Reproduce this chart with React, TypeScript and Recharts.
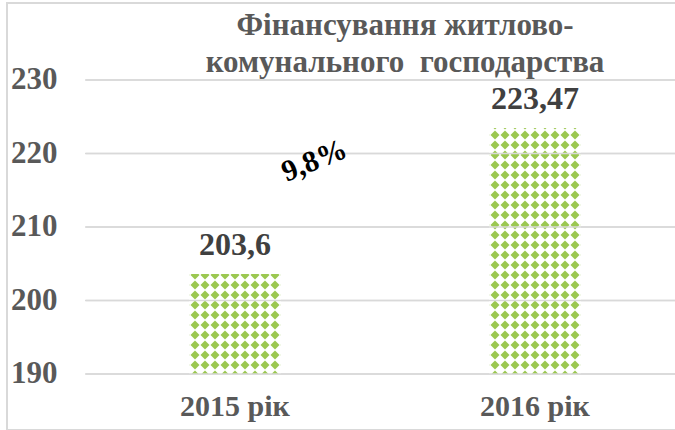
import React from 'react';
import { BarChart, Bar, XAxis, YAxis, CartesianGrid, LabelList } from 'recharts';

const categories = ['2015 рік', '2016 рік'];
const values = [203.6, 223.47];
const valueLabels = ['203,6', '223,47'];
const yTicks = [190, 200, 210, 220, 230];
const titleLines = ['Фінансування житлово-', 'комунального  господарства'];
const growthLabel = '9,8%';

const data = categories.map((name, i) => ({ name, value: values[i], label: valueLabels[i] }));

const FONT = '"Liberation Serif", "Times New Roman", serif';
const GRAY = '#595959';
const CHART_W = 675;

const YTick = (props: any) => (
  <g>
    <line x1={86} x2={CHART_W} y1={props.y} y2={props.y} stroke="#d9d9d9" strokeWidth={1.5} />
    <text x={11} y={props.y} dy={9} textAnchor="start" fontFamily={FONT} fontSize={31} fontWeight="bold" fill={GRAY}>
      {props.payload.value}
    </text>
  </g>
);

const XTick = (props: any) => (
  <text x={props.x} y={props.y} dy={34} textAnchor="middle" fontFamily={FONT} fontSize={30} fontWeight="bold" fill={GRAY}>
    {props.payload.value}
  </text>
);

const ValueLabel = (props: any) => (
  <text x={props.x + props.width / 2} y={props.y - 19} textAnchor="middle" fontFamily={FONT} fontSize={32} fontWeight="bold" fill="#404040">
    {props.value}
  </text>
);

const App: React.FC = () => {
  return (
    <div style={{ position: 'fixed', left: 0, top: 0, width: 675, height: 430, overflow: 'hidden', background: '#fff', fontFamily: FONT }}>
      <svg width={0} height={0} style={{ position: 'absolute' }}>
        <defs>
          <pattern id="diamonds" width={10} height={10} patternUnits="userSpaceOnUse">
            <rect width={10} height={10} fill="#fff" />
            <polygon points="5,0.5 9.5,5 5,9.5 0.5,5" fill="#9BC850" />
          </pattern>
        </defs>
      </svg>
      <div style={{ position: 'absolute', left: 6, top: 2, width: 720, height: 425, border: '2px solid #d9d9d9' }} />
      <div style={{ position: 'absolute', left: 0, top: 0, width: 675 }}>
        <BarChart width={CHART_W} height={430} data={data} margin={{ top: 80, right: -10, bottom: 0, left: 0 }} barSize={92}>
          <CartesianGrid vertical={false} stroke="#d9d9d9" strokeWidth={1.5} />
          <XAxis dataKey="name" height={56} axisLine={false} tickLine={false} tick={<XTick />} interval={0} />
          <YAxis width={85} domain={[190, 230]} ticks={yTicks} axisLine={false} tickLine={false} tick={<YTick />} />
          <Bar dataKey="value" fill="url(#diamonds)" isAnimationActive={false}>
            <LabelList dataKey="label" content={<ValueLabel />} />
          </Bar>
        </BarChart>
      </div>
      <div style={{ position: 'absolute', left: 0, width: 810, top: 6, textAlign: 'center', fontSize: 31, fontWeight: 'bold', color: GRAY, lineHeight: '37px', whiteSpace: 'pre' }}>
        {titleLines.map((l) => (
          <div key={l}>{l}</div>
        ))}
      </div>
      <div style={{ position: 'absolute', left: 314, top: 160, transform: 'translate(-50%, -50%) rotate(-22deg)', fontSize: 30, fontWeight: 'bold', color: '#000', whiteSpace: 'nowrap' }}>
        {growthLabel}
      </div>
    </div>
  );
};

export default App;
